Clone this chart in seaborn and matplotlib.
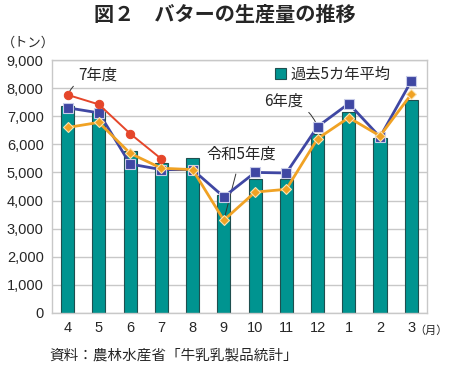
import matplotlib
matplotlib.use("Agg")
import matplotlib.pyplot as plt
import seaborn as sns
import pandas as pd
import numpy as np

months = ["4", "5", "6", "7", "8", "9", "10", "11", "12", "1", "2", "3"]
avg5 = [7350, 7150, 5750, 5330, 5500, 4200, 4780, 4780, 6370, 7150, 6220, 7560]
fy6 = [7300, 7120, 5300, 5100, 5100, 4130, 5000, 4980, 6630, 7450, 6260, 8250]
r5 = [6600, 6780, 5680, 5150, 5100, 3300, 4300, 4400, 6200, 6950, 6300, 7780]
fy7 = [7760, 7420, 6380, 5480]
yticks = [0, 1000, 2000, 3000, 4000, 5000, 6000, 7000, 8000, 9000]

sns.set_theme(style="white")
plt.rcParams['font.family'] = ['Noto Sans CJK JP', 'DejaVu Sans']

fig = plt.figure(figsize=(4.5, 3.66), dpi=100)
ax = fig.add_axes([0.1156, 0.145, 0.833, 0.691])

df = pd.DataFrame({"month": months, "avg": avg5})
sns.barplot(data=df, x="month", y="avg", order=months, color="#009490",
            saturation=1, width=0.42, edgecolor="#1f4f4f", linewidth=0.8,
            ax=ax, zorder=2, label="過去5カ年平均")

pos = np.arange(len(months))
sns.lineplot(x=pos, y=fy6, ax=ax, color="#3f47a3", linewidth=2, marker="s",
             markersize=7, markeredgecolor="#c8cce8", markeredgewidth=0.8, zorder=4)
sns.lineplot(x=pos, y=r5, ax=ax, color="#f0a224", linewidth=2, marker="D",
             markersize=5.5, markeredgecolor="#fbe3b0", markeredgewidth=0.8, zorder=5)
sns.lineplot(x=pos[:len(fy7)], y=fy7, ax=ax, color="#e5462a", linewidth=1.4, marker="o",
             markersize=6, markeredgecolor="#e5462a", zorder=6)

ax.set_xlim(-0.5, 11.5)
ax.set_ylim(0, 9000)
ax.set_yticks(yticks)
ax.set_yticklabels([f"{v:,}" for v in yticks], fontsize=10.5, family=['Liberation Sans', 'DejaVu Sans'])
ax.set_xticks(pos)
ax.set_xticklabels(months, fontsize=10.5, family=['Liberation Sans', 'DejaVu Sans'])
ax.tick_params(axis='both', length=0, pad=6)
ax.set_xlabel("")
ax.set_ylabel("")
ax.yaxis.grid(True, color="#c8c8c8", linewidth=1)
ax.set_axisbelow(True)
for s in ax.spines.values():
    s.set_color("#c8c8c8")
    s.set_linewidth(1)

leg = ax.legend(handles=[ax.patches[0]], labels=["過去5カ年平均"], loc="upper right",
                bbox_to_anchor=(0.94, 1.03), frameon=False, fontsize=11,
                handlelength=0.7, handleheight=0.7, handletextpad=0.3)

ax.annotate("7年度", xy=(0, fy7[0]), xytext=(0.35, 8450), fontsize=11,
            ha="left", va="center",
            arrowprops=dict(arrowstyle="-", color="#333333", lw=0.7,
                            connectionstyle="arc3,rad=0.3", shrinkA=2, shrinkB=3))
ax.annotate("6年度", xy=(8, fy6[8]), xytext=(7.55, 7550), fontsize=11,
            ha="right", va="center",
            arrowprops=dict(arrowstyle="-", color="#333333", lw=0.7,
                            connectionstyle="arc3,rad=-0.3", shrinkA=2, shrinkB=3))
ax.annotate("令和5年度", xy=(5, r5[5]), xytext=(5.55, 5650), fontsize=11,
            ha="center", va="center",
            arrowprops=dict(arrowstyle="-", color="#333333", lw=0.7, shrinkA=6, shrinkB=2))

fig.text(0.5, 0.962, "図２　バターの生産量の推移", ha="center", va="center",
         fontsize=14.5, fontweight="bold")
fig.text(0.005, 0.882, "（トン）", ha="left", va="center", fontsize=9.5)
fig.text(0.921, 0.097, "（月）", ha="left", va="center", fontsize=8)
fig.text(0.11, 0.03, "資料：農林水産省「牛乳乳製品統計」", ha="left", va="center", fontsize=10.5)

fig.savefig("out.png", dpi=100)
